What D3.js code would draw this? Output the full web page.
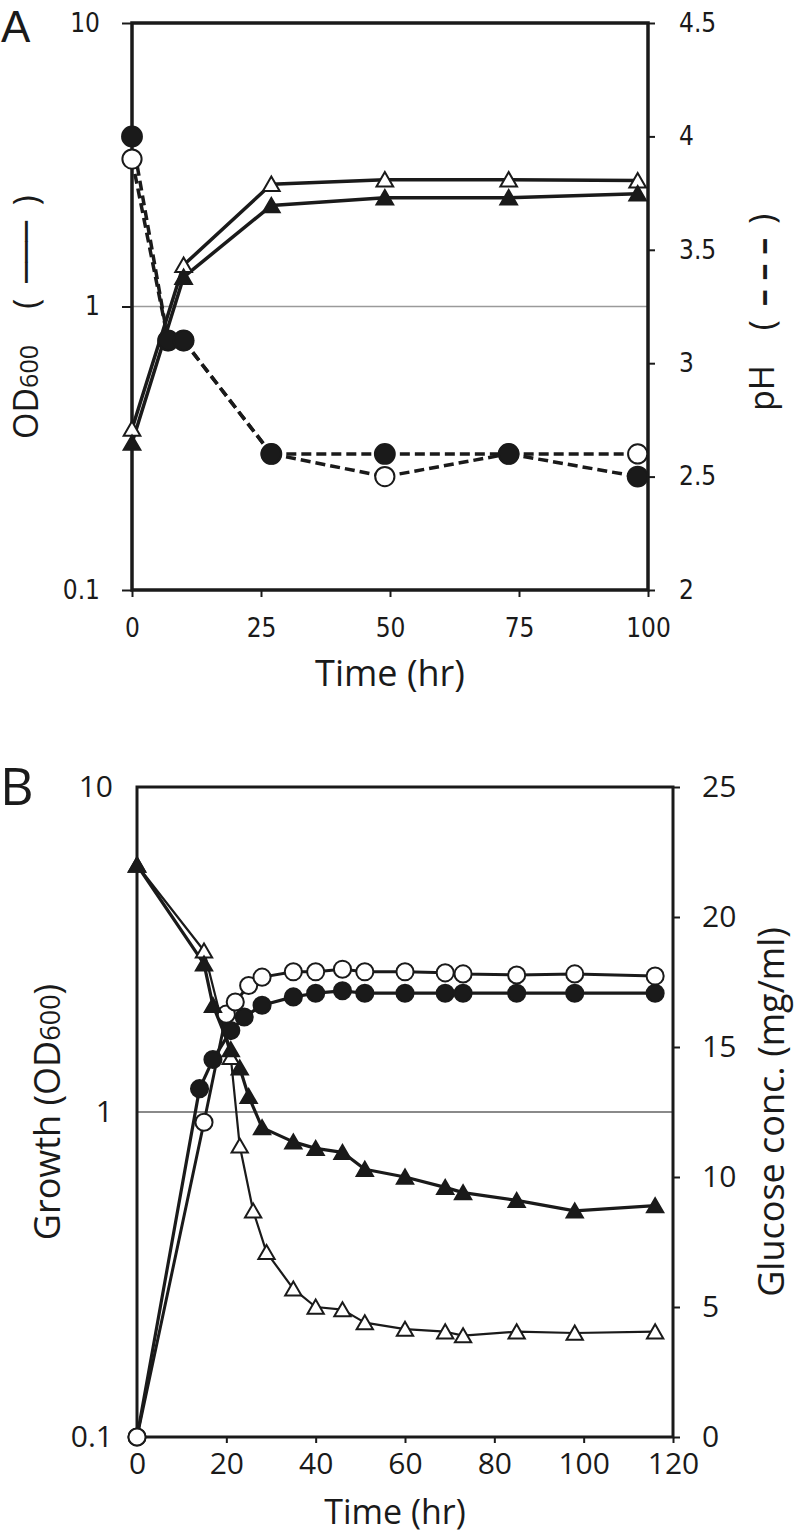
<!DOCTYPE html>
<html>
<head>
<meta charset="utf-8">
<script src="https://cdn.jsdelivr.net/npm/d3@7"></script>
<style>
  html, body { margin: 0; padding: 0; background: #fff; }
  svg { display: block; }
</style>
</head>
<body>
<svg id="chart" width="800" height="1538"></svg>
<script>
// ---------------- Panel A data ----------------
const aTimePH = [0, 7, 10, 27, 49, 73, 98];
const aPHFilled = [4.0, 3.1, 3.1, 2.6, 2.6, 2.6, 2.5];
const aPHOpen = [3.9, 3.1, 3.1, 2.6, 2.5, 2.6, 2.6];
const aTimeOD = [0, 10, 27, 49, 73, 98];
const aODOpen = [0.37, 1.4, 2.7, 2.8, 2.8, 2.78];
const aODFilled = [0.33, 1.27, 2.27, 2.42, 2.42, 2.5];
const aXTicks = [0, 25, 50, 75, 100];
const aLeftTicks = [0.1, 1, 10];
const aRightTicks = [2, 2.5, 3, 3.5, 4, 4.5];

// ---------------- Panel B data ----------------
const bTimeCircFilled = [0, 14, 17, 21, 24, 28, 35, 40, 46, 51, 60, 69, 73, 85, 98, 116];
const bGrowthFilled = [0.1, 1.18, 1.45, 1.78, 1.96, 2.13, 2.26, 2.32, 2.36, 2.32, 2.32, 2.32, 2.32, 2.32, 2.32, 2.32];
const bTimeCircOpen = [0, 15, 20, 22, 25, 28, 35, 40, 46, 51, 60, 69, 73, 85, 98, 116];
const bGrowthOpen = [0.1, 0.93, 2.0, 2.18, 2.45, 2.6, 2.7, 2.7, 2.75, 2.7, 2.7, 2.68, 2.66, 2.64, 2.66, 2.62];
const bTimeTriFilled = [0, 15, 17, 21, 23, 25, 28, 35, 40, 46, 51, 60, 69, 73, 85, 98, 116];
const bGlucoseFilled = [22.0, 18.2, 16.6, 14.9, 14.2, 13.1, 11.9, 11.35, 11.1, 10.95, 10.3, 10.0, 9.6, 9.4, 9.1, 8.7, 8.9];
const bTimeTriOpen = [0, 15, 21, 23, 26, 29, 35, 40, 46, 51, 60, 69, 73, 85, 98, 116];
const bGlucoseOpen = [22.0, 18.7, 14.6, 11.2, 8.7, 7.1, 5.7, 5.0, 4.9, 4.4, 4.15, 4.05, 3.9, 4.05, 4.0, 4.05];
const bXTicks = [0, 20, 40, 60, 80, 100, 120];
const bLeftTicks = [0.1, 1, 10];
const bRightTicks = [0, 5, 10, 15, 20, 25];

const INK = "#1a1a1a";
const svg = d3.select("#chart");
svg.append("rect").attr("width", 800).attr("height", 1538).attr("fill", "#fff");

function zip(t, v) { return t.map((d, i) => ({ t: d, v: v[i] })); }

function styleAxis(g, width, fontFamily, fontSize) {
  g.select(".domain").remove();
  g.selectAll(".tick line").attr("stroke", INK).attr("stroke-width", width);
  g.selectAll(".tick text").attr("fill", INK)
    .style("font-family", fontFamily).style("font-size", fontSize + "px");
}

function drawSeries(g, data, x, y, opts) {
  const line = d3.line().x(d => x(d.t)).y(d => y(d.v));
  if (opts.dash) {
    const segs = d3.pairs(data);
    g.selectAll(null).data(segs).enter().append("path")
      .attr("d", d => line(d))
      .attr("fill", "none").attr("stroke", INK)
      .attr("stroke-width", opts.lw)
      .attr("stroke-dasharray", opts.dash);
  } else {
    g.append("path").datum(data).attr("d", line)
      .attr("fill", "none").attr("stroke", INK)
      .attr("stroke-width", opts.lw)
      .attr("stroke-linejoin", "round");
  }
}
function drawMarkers(g, data, x, y, opts) {
  const sym = d3.symbol().type(opts.shape === "circle" ? d3.symbolCircle : d3.symbolTriangle).size(opts.size);
  g.selectAll(null).data(data).enter().append("path")
    .attr("d", sym)
    .attr("transform", d => `translate(${x(d.t)},${y(d.v)})` + (opts.shape === "circle" ? "" : " translate(0,2)"))
    .attr("fill", opts.filled ? INK : "#fff")
    .attr("stroke", INK).attr("stroke-width", opts.sw || 2);
}

// ================= Panel A =================
(function () {
  const L = 132, R = 648, T = 23, B = 590;
  const x = d3.scaleLinear().domain([0, 100]).range([L, R]);
  const yL = d3.scaleLog().domain([0.1, 10]).range([B, T]);
  const yR = d3.scaleLinear().domain([2, 4.5]).range([B, T]);
  const g = svg.append("g");
  const tickFont = "DejaVu Sans Condensed, DejaVu Sans";

  g.append("line").attr("x1", L).attr("x2", R).attr("y1", yL(1)).attr("y2", yL(1))
    .attr("stroke", "#9a9a9a").attr("stroke-width", 1.5);

  const ax = g.append("g").attr("transform", `translate(0,${B})`)
    .call(d3.axisBottom(x).tickValues(aXTicks).tickSize(7).tickPadding(22).tickFormat(d3.format("d")));
  styleAxis(ax, 2, tickFont, 26);
  const al = g.append("g").attr("transform", `translate(${L},0)`)
    .call(d3.axisLeft(yL).tickValues(aLeftTicks).tickSize(10).tickPadding(22).tickFormat(d => d3.format("~g")(d)));
  styleAxis(al, 2, tickFont, 26);
  const ar = g.append("g").attr("transform", `translate(${R},0)`)
    .call(d3.axisRight(yR).tickValues(aRightTicks).tickSize(7).tickPadding(24).tickFormat(d => d3.format("~g")(d)));
  styleAxis(ar, 2, tickFont, 26);

  g.append("rect").attr("x", L).attr("y", T).attr("width", R - L).attr("height", B - T)
    .attr("fill", "none").attr("stroke", INK).attr("stroke-width", 3.5);

  const pF = zip(aTimePH, aPHFilled), pO = zip(aTimePH, aPHOpen);
  const oO = zip(aTimeOD, aODOpen), oF = zip(aTimeOD, aODFilled);
  drawSeries(g, pO, x, yR, { lw: 3.5, dash: "10,5" });
  drawSeries(g, pF, x, yR, { lw: 3.5, dash: "10,5" });
  drawSeries(g, oO, x, yL, { lw: 3.5 });
  drawSeries(g, oF, x, yL, { lw: 3.5 });
  drawMarkers(g, pO, x, yR, { shape: "circle", filled: false, size: 290 });
  drawMarkers(g, pF, x, yR, { shape: "circle", filled: true, size: 310 });
  drawMarkers(g, oO, x, yL, { shape: "triangle", filled: false, size: 120 });
  drawMarkers(g, oF, x, yL, { shape: "triangle", filled: true, size: 120 });

  g.append("text").attr("x", 1).attr("y", 42).text("A")
    .style("font-family", "Liberation Sans").style("font-size", "44px").attr("fill", INK);
  g.append("text").attr("x", (L + R) / 2).attr("y", 686).attr("text-anchor", "middle")
    .style("font-family", "Open Sans").style("font-size", "36px").attr("fill", INK).text("Time (hr)");

  // left label: OD600 ( —— )
  const od = g.append("text").attr("transform", "translate(38,392) rotate(-90)")
    .attr("text-anchor", "middle").style("font-family", "Open Sans").style("font-size", "34px").attr("fill", INK);
  od.append("tspan").text("OD");
  od.append("tspan").style("font-size", "25px").text("600");
  const lp = g.append("text").attr("transform", "translate(38,252) rotate(-90)")
    .attr("text-anchor", "middle").style("font-family", "Open Sans").style("font-size", "34px").attr("fill", INK);
  lp.append("tspan").text("(");
  lp.append("tspan").attr("dx", 16).style("font-family", "DejaVu Sans").style("font-weight", "bold").text("───");
  lp.append("tspan").attr("dx", 16).text(")");

  // right label: pH ( - - - )
  g.append("text").attr("transform", "translate(774,388) rotate(-90)")
    .attr("text-anchor", "middle").style("font-family", "Open Sans").style("font-size", "34px").attr("fill", INK)
    .text("pH");
  const rp = g.append("text").attr("transform", "translate(774,272) rotate(-90)")
    .attr("text-anchor", "middle").style("font-family", "Open Sans").style("font-size", "34px").attr("fill", INK);
  rp.append("tspan").text("(");
  rp.append("tspan").attr("dx", 14).style("font-weight", "bold").text("– – –");
  rp.append("tspan").attr("dx", 14).text(")");
})();

// ================= Panel B =================
(function () {
  const L = 137, R = 673, T = 787, B = 1437;
  const x = d3.scaleLinear().domain([0, 120]).range([L, R]);
  const yL = d3.scaleLog().domain([0.1, 10]).range([B, T]);
  const yR = d3.scaleLinear().domain([0, 25]).range([B, T]);
  const g = svg.append("g");
  const font = "Open Sans";

  g.append("line").attr("x1", L).attr("x2", R).attr("y1", yL(1)).attr("y2", yL(1))
    .attr("stroke", "#8a8a8a").attr("stroke-width", 2);

  const ax = g.append("g").attr("transform", `translate(0,${B})`)
    .call(d3.axisBottom(x).tickValues(bXTicks).tickSize(6).tickPadding(10).tickFormat(d3.format("d")));
  styleAxis(ax, 2, font, 30);
  const al = g.append("g").attr("transform", `translate(${L},0)`)
    .call(d3.axisLeft(yL).tickValues(bLeftTicks).tickSize(0).tickPadding(24).tickFormat(d => d3.format("~g")(d)));
  styleAxis(al, 2, font, 30);
  const ar = g.append("g").attr("transform", `translate(${R},0)`)
    .call(d3.axisRight(yR).tickValues(bRightTicks).tickSize(7).tickPadding(22).tickFormat(d3.format("d")));
  styleAxis(ar, 2, font, 30);

  g.append("rect").attr("x", L).attr("y", T).attr("width", R - L).attr("height", B - T)
    .attr("fill", "none").attr("stroke", INK).attr("stroke-width", 3);

  const cF = zip(bTimeCircFilled, bGrowthFilled), cO = zip(bTimeCircOpen, bGrowthOpen);
  const tF = zip(bTimeTriFilled, bGlucoseFilled), tO = zip(bTimeTriOpen, bGlucoseOpen);
  drawSeries(g, tO, x, yR, { lw: 2.2 });
  drawSeries(g, tF, x, yR, { lw: 3.2 });
  drawSeries(g, cO, x, yL, { lw: 3 });
  drawSeries(g, cF, x, yL, { lw: 3.2 });
  drawMarkers(g, cF, x, yL, { shape: "circle", filled: true, size: 230 });
  drawMarkers(g, cO, x, yL, { shape: "circle", filled: false, size: 230 });
  drawMarkers(g, tO, x, yR, { shape: "triangle", filled: false, size: 115 });
  drawMarkers(g, tF, x, yR, { shape: "triangle", filled: true, size: 115 });

  g.append("text").attr("x", 0).attr("y", 805).text("B")
    .style("font-family", font).style("font-size", "52px").attr("fill", INK);
  g.append("text").attr("x", (L + R) / 2 - 10).attr("y", 1524).attr("text-anchor", "middle")
    .style("font-family", font).style("font-size", "34px").attr("fill", INK).text("Time (hr)");

  const lt = g.append("text").attr("transform", "translate(60,1112) rotate(-90)")
    .attr("text-anchor", "middle").style("font-family", font).style("font-size", "36px").attr("fill", INK);
  lt.append("tspan").text("Growth (OD");
  lt.append("tspan").style("font-size", "27px").text("600");
  lt.append("tspan").text(")");

  g.append("text").attr("transform", "translate(784,1112) rotate(-90)")
    .attr("text-anchor", "middle").style("font-family", font).style("font-size", "36px").attr("fill", INK)
    .text("Glucose conc. (mg/ml)");
})();
</script>
</body>
</html>
